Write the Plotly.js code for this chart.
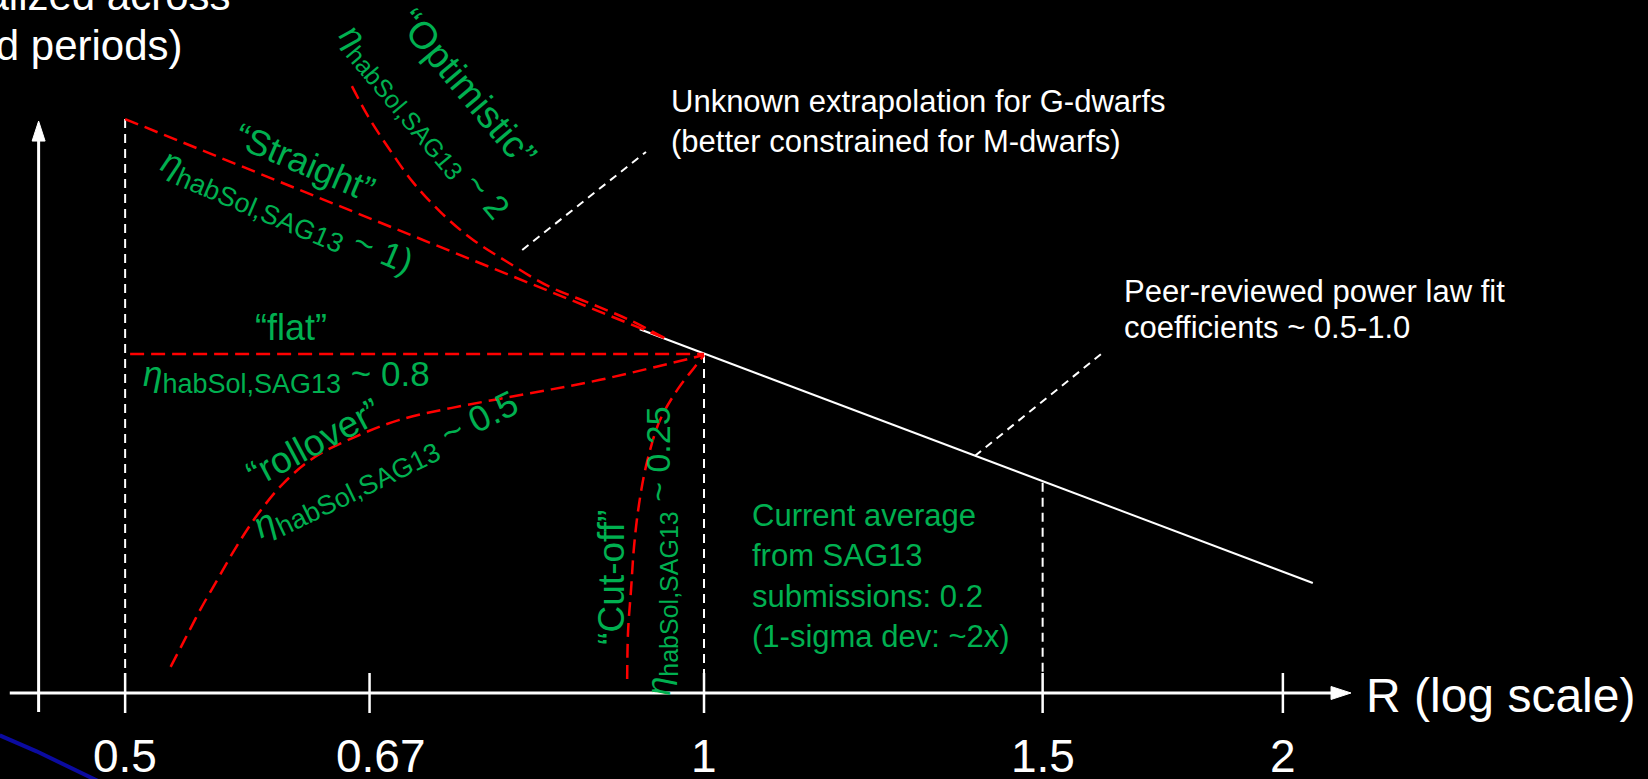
<!DOCTYPE html>
<html>
<head>
<meta charset="utf-8">
<script src="https://cdn.plot.ly/plotly-3.0.1.min.js"></script>
<style>
html,body{margin:0;padding:0;background:#000;overflow:hidden}
#chart{width:1648px;height:779px}
</style>
</head>
<body>
<div id="chart"></div>
<script>
// ---------- data (R = planet radius, eta = relative occurrence, arbitrary units) ----------
const tickValues = [0.5, 0.67, 1, 1.5, 2];
const tickLabels = ['0.5', '0.67', '1', '1.5', '2'];

const powerLawR   = [0.926, 2.073];
const powerLawEta = [1.073, 0.3245];

const straightR   = [0.50, 0.954];
const straightEta = [1.693, 1.047];

const optimisticR   = [0.656, 0.669, 0.685, 0.705, 0.729, 0.757, 0.791, 0.830, 0.872, 0.915, 0.954];
const optimisticEta = [1.79, 1.70, 1.61, 1.51, 1.42, 1.34, 1.27, 1.20, 1.15, 1.10, 1.047];

const flatR   = [0.503, 1.0];
const flatEta = [1.0, 1.0];

const rolloverR   = [0.528, 0.5365, 0.547, 0.559, 0.5712, 0.5857, 0.6047, 0.6275, 0.660, 0.6938, 0.7394, 0.8083, 0.8818, 1.0];
const rolloverEta = [0.077, 0.153, 0.245, 0.339, 0.431, 0.525, 0.620, 0.696, 0.758, 0.805, 0.841, 0.882, 0.923, 0.997];

const cutoffR   = [0.9121, 0.9131, 0.9164, 0.9196, 0.9252, 0.934, 0.9487, 0.9693, 0.9881, 1.0];
const cutoffEta = [0.041, 0.183, 0.307, 0.431, 0.558, 0.681, 0.805, 0.897, 0.959, 0.997];

const guideR   = [0.5, 1, 1.5];
const guideTop = [1.693, 1.0, 0.62];

const unknownLeaderR   = [0.8044, 0.9329];
const unknownLeaderEta = [1.307, 1.596];
const peerLeaderR   = [1.383, 1.609];
const peerLeaderEta = [0.699, 1.0];

const offSlideR   = [0.4303, 0.4497, 0.4852];
const offSlideEta = [-0.125, -0.172, -0.2625];

const xAxisR = [0.4355, 2.170];
const yAxisR = 0.4508;
const yAxisEta = [-0.056, 1.687];
const tickSpan = [0.059, -0.059];

// ---------- styles ----------
const FONT = 'Liberation Sans, Arial, Helvetica, sans-serif';
const GREEN = '#00B050';
const RED = '#FF0000';
const WHITE = '#FFFFFF';
const LOG = Math.log10;

function seg(xs, y0s, y1s) {
  const x = [], y = [];
  xs.forEach((v, i) => { x.push(v, v, null); y.push(y0s[i], y1s[i], null); });
  return {x, y};
}
function line(x, y, color, width, dash, shape) {
  return {type: 'scatter', mode: 'lines', x: x, y: y, hoverinfo: 'skip',
          line: {color: color, width: width, dash: dash || 'solid', shape: shape || 'linear', smoothing: 1}};
}
function arrowLine(x, y) {
  return {type: 'scatter', mode: 'lines+markers', x: x, y: y, hoverinfo: 'skip',
          line: {color: WHITE, width: 3},
          marker: {symbol: 'arrow', angleref: 'previous', size: [0, 21], color: WHITE, opacity: 1,
                   line: {width: 1, color: WHITE}}};
}

const ticks = seg(tickValues, tickValues.map(() => tickSpan[0]), tickValues.map(() => tickSpan[1]));
const guides = seg(guideR, guideTop, guideR.map(() => tickSpan[0]));

const traces = [
  line(offSlideR, offSlideEta, '#0B0BA0', 4),
  arrowLine(xAxisR, [0, 0]),
  arrowLine([yAxisR, yAxisR], yAxisEta),
  line(ticks.x, ticks.y, WHITE, 2.5),
  line(guides.x, guides.y, WHITE, 2, '9px,6px'),
  line(unknownLeaderR, unknownLeaderEta, WHITE, 2, '8px,6px'),
  line(peerLeaderR, peerLeaderEta, WHITE, 2, '8px,6px'),
  line(powerLawR, powerLawEta, WHITE, 2),
  line(straightR, straightEta, RED, 2.5, '14px,7px'),
  line(optimisticR, optimisticEta, RED, 2.5, '14px,7px', 'spline'),
  line(flatR, flatEta, RED, 2.5, '14px,7px'),
  line(rolloverR, rolloverEta, RED, 2.5, '14px,7px', 'spline'),
  line(cutoffR, cutoffEta, RED, 2.5, '14px,7px', 'spline')
];

function txt(text, R, eta, size, color, opts) {
  return Object.assign({
    text: text, x: LOG(R), y: eta, xref: 'x', yref: 'y', showarrow: false,
    font: {family: FONT, size: size, color: color},
    xanchor: 'center', yanchor: 'middle', align: 'left'
  }, opts || {});
}
function etaLabel(value, subSize) {
  return '<i>η</i><sub><span style="font-size:' + subSize + 'px">habSol,SAG13</span></sub> ~ ' + value;
}

const annotations = [
  // y-axis title (partly off the slide)
  txt('Occurrence rate (normalized across', 0.5689, 1.981, 42, WHITE, {xanchor: 'right', yanchor: 'bottom'}),
  txt('radii and periods)', 0.5372, 1.835, 42, WHITE, {xanchor: 'right', yanchor: 'bottom'}),

  // x-axis title
  txt('R (log scale)', 2.2050, -0.006, 48, WHITE, {xanchor: 'left'}),

  // white notes
  txt('Unknown extrapolation for G-dwarfs<br>(better constrained for M-dwarfs)', 0.959, 1.685, 31, WHITE, {xanchor: 'left'}),
  txt('Peer-reviewed power law fit', 1.6503, 1.185, 31, WHITE, {xanchor: 'left'}),
  txt('coefficients ~ 0.5-1.0', 1.6503, 1.079, 31, WHITE, {xanchor: 'left'}),

  // green scenario labels
  txt('“Optimistic”', 0.7530, 1.784, 38, GREEN, {textangle: 50}),
  txt(etaLabel('2', 25), 0.7140, 1.682, 34, GREEN, {textangle: 50}),
  txt('“Straight”', 0.6200, 1.566, 36, GREEN, {textangle: 23}),
  txt(etaLabel('1)', 27), 0.6069, 1.414, 35, GREEN, {textangle: 23}),
  txt('“flat”', 0.6098, 1.077, 36, GREEN),
  txt(etaLabel('0.8', 27), 0.6069, 0.935, 35, GREEN),
  txt('“rollover”', 0.6270, 0.738, 37, GREEN, {textangle: -28}),
  txt(etaLabel('0.5', 27), 0.6844, 0.667, 36, GREEN, {textangle: -26}),
  txt('“Cut-off”', 0.8957, 0.340, 37, GREEN, {textangle: -90}),
  txt(etaLabel('0.25', 25), 0.9498, 0.420, 34, GREEN, {textangle: -90}),
  txt('Current average<br>from SAG13<br>submissions: 0.2<br>(1-sigma dev: ~2x)', 1.0566, 0.3463, 31, GREEN, {xanchor: 'left'})
];

// tick labels
tickValues.forEach((v, i) => {
  annotations.push(txt(tickLabels[i], v, -0.187, 46, WHITE, {xshift: v === 0.67 ? 11 : 0}));
});

const layout = {
  width: 1648, height: 779,
  margin: {l: 0, r: 0, t: 0, b: 0, pad: 0},
  paper_bgcolor: '#000', plot_bgcolor: '#000',
  showlegend: false, hovermode: false,
  xaxis: {type: 'log', range: [-0.3661, 0.4909], visible: false, fixedrange: true},
  yaxis: {range: [-0.2537, 2.0442], visible: false, fixedrange: true},
  annotations: annotations
};

Plotly.newPlot('chart', traces, layout, {staticPlot: true, displayModeBar: false});
</script>
</body>
</html>
